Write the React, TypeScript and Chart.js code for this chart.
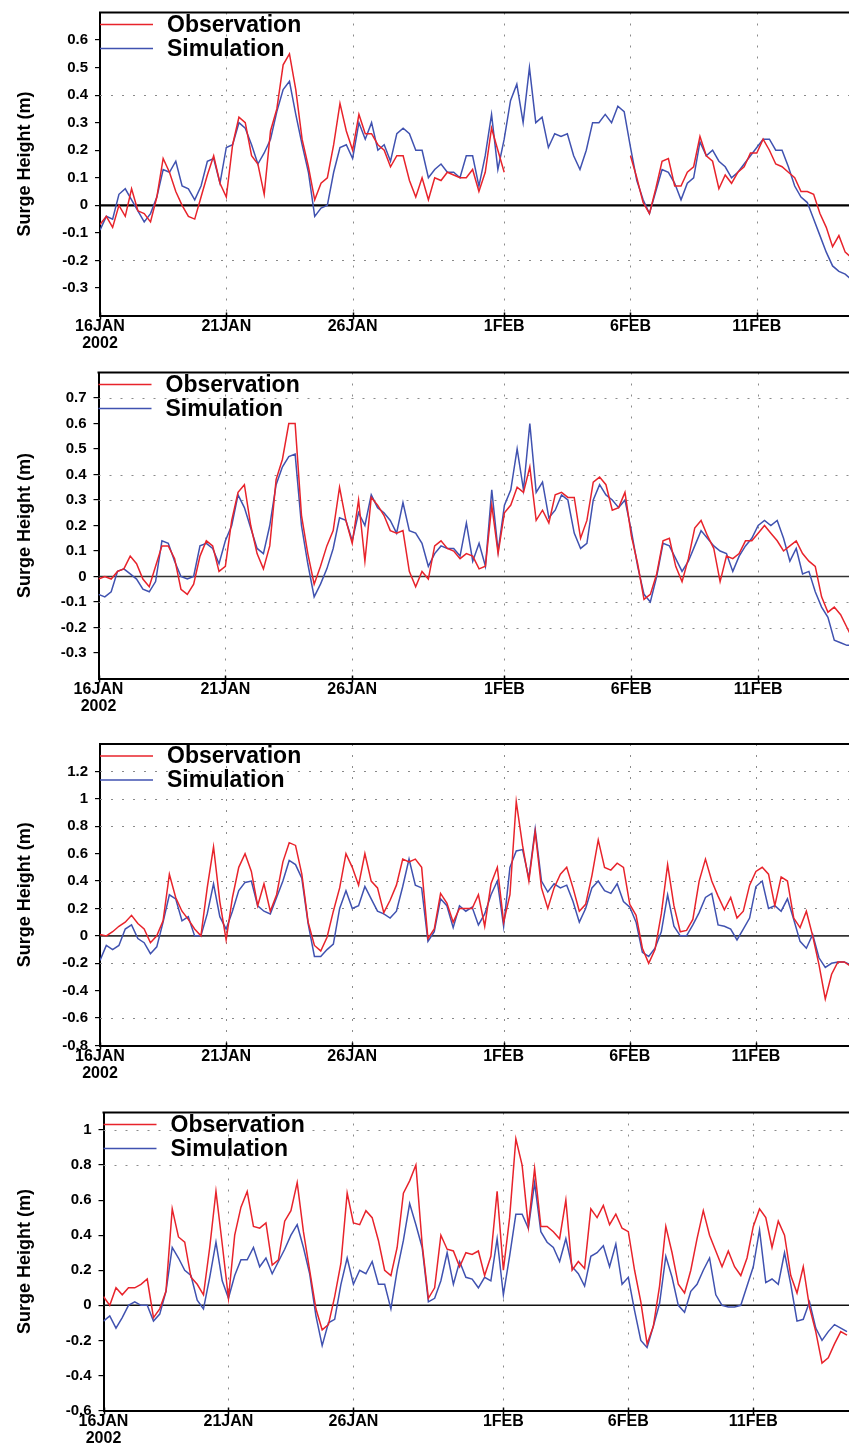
import React, { useEffect, useRef } from "react";
import { Chart, registerables } from "chart.js";

Chart.register(...registerables);

const FONT = "'Liberation Sans', Arial, sans-serif";
const RED = "#e8232b";
const BLUE = "#4052b0";
const STEP_DAYS = 0.25; // samples every 6 hours from 16JAN 00h
const DATE_TICKS = [0, 5, 10, 16, 21, 26];
const DATE_LABELS: (string | string[])[] = [["16JAN", "2002"], "21JAN", "26JAN", "1FEB", "6FEB", "11FEB"];
const SERIES_NAMES = ["Observation", "Simulation"];
const Y_TITLE = "Surge Height (m)";

const obs1 = [
  -0.07, -0.04, -0.08, 0.0, -0.04, 0.06, -0.02, -0.03, -0.06, 0.03,
  0.17, 0.12, 0.05, 0.0, -0.04, -0.05, 0.03, 0.11, 0.18, 0.08,
  0.03, 0.22, 0.32, 0.3, 0.18, 0.15, 0.04, 0.27, 0.35, 0.51,
  0.55, 0.42, 0.24, 0.14, 0.02, 0.08, 0.1, 0.22, 0.37, 0.27,
  0.2, 0.33, 0.26, 0.26, 0.22, 0.2, 0.14, 0.18, 0.18, 0.09,
  0.03, 0.1, 0.02, 0.1, 0.09, 0.12, 0.11, 0.1, 0.1, 0.13,
  0.05, 0.12, 0.28, 0.2, 0.12, null, null, null, null, null,
  null, null, null, null, null, null, null, null, null, null,
  null, null, null, null, 0.18, 0.1, 0.01, -0.03, 0.06, 0.16,
  0.17, 0.07, 0.07, 0.12, 0.14, 0.25, 0.18, 0.16, 0.06, 0.11,
  0.08, 0.12, 0.14, 0.19, 0.19, 0.24, 0.2, 0.15, 0.14, 0.12,
  0.1, 0.05, 0.05, 0.04, -0.03, -0.08, -0.15, -0.11, -0.17, -0.19,
];
const sim1 = [
  -0.09, -0.04, -0.05, 0.04, 0.06, 0.02, -0.02, -0.06, -0.03, 0.03,
  0.13, 0.12, 0.16, 0.07, 0.06, 0.02, 0.07, 0.16, 0.17, 0.08,
  0.21, 0.22, 0.3, 0.28, 0.22, 0.15, 0.19, 0.24, 0.34, 0.42,
  0.45, 0.33, 0.22, 0.12, -0.04, -0.01, 0.0, 0.12, 0.21, 0.22,
  0.17, 0.3, 0.24, 0.3, 0.2, 0.22, 0.16, 0.26, 0.28, 0.26,
  0.2, 0.2, 0.1, 0.13, 0.15, 0.12, 0.12, 0.1, 0.18, 0.18,
  0.07, 0.18, 0.33, 0.13, 0.24, 0.38, 0.44, 0.3, 0.5, 0.3,
  0.32, 0.21, 0.26, 0.25, 0.26, 0.18, 0.13, 0.2, 0.3, 0.3,
  0.33, 0.3, 0.36, 0.34, 0.21, 0.09, 0.02, -0.03, 0.05, 0.13,
  0.12, 0.08, 0.02, 0.08, 0.1, 0.23, 0.18, 0.2, 0.16, 0.14,
  0.1, 0.12, 0.15, 0.18, 0.21, 0.24, 0.24, 0.2, 0.2, 0.14,
  0.07, 0.03, 0.01, -0.05, -0.11, -0.17, -0.22, -0.24, -0.25, -0.27,
];
const obs2 = [
  -0.01, 0.0, -0.01, 0.02, 0.03, 0.08, 0.05, -0.01, -0.04, 0.04,
  0.12, 0.12, 0.07, -0.05, -0.07, -0.03, 0.08, 0.14, 0.12, 0.02,
  0.04, 0.22, 0.33, 0.36, 0.2, 0.09, 0.03, 0.12, 0.38, 0.46,
  0.6, 0.6, 0.24, 0.09, -0.03, 0.04, 0.12, 0.18, 0.35, 0.22,
  0.13, 0.3, 0.06, 0.31, 0.28, 0.24, 0.18, 0.17, 0.18, 0.02,
  -0.04, 0.02, -0.01, 0.12, 0.14, 0.11, 0.1, 0.07, 0.09, 0.08,
  0.03, 0.04, 0.28, 0.09, 0.25, 0.28, 0.35, 0.33, 0.43, 0.22,
  0.26, 0.21, 0.32, 0.33, 0.31, 0.31, 0.15, 0.22, 0.37, 0.39,
  0.36, 0.26, 0.27, 0.33, 0.16, 0.05, -0.09, -0.07, 0.01, 0.14,
  0.15, 0.04, -0.02, 0.07, 0.19, 0.22, 0.16, 0.11, -0.02, 0.08,
  0.07, 0.09, 0.14, 0.14, 0.17, 0.2, 0.17, 0.14, 0.1, 0.12,
  0.14, 0.09, 0.06, 0.04, -0.08, -0.14, -0.12, -0.15, -0.2, -0.25,
];
const sim2 = [
  -0.07, -0.08, -0.06, 0.02, 0.03, 0.01, -0.01, -0.05, -0.06, -0.02,
  0.14, 0.13, 0.06, 0.0, -0.01, 0.0, 0.12, 0.13, 0.11, 0.05,
  0.14, 0.2, 0.32, 0.27, 0.19, 0.11, 0.09, 0.2, 0.36, 0.43,
  0.47, 0.48, 0.2, 0.05, -0.08, -0.03, 0.03, 0.11, 0.23, 0.22,
  0.14, 0.25, 0.2, 0.32, 0.27, 0.25, 0.22, 0.17, 0.29, 0.18,
  0.17, 0.13, 0.04, 0.09, 0.12, 0.11, 0.11, 0.08, 0.21, 0.06,
  0.13, 0.04, 0.34, 0.1, 0.28, 0.34, 0.5, 0.34, 0.6, 0.33,
  0.37, 0.23, 0.26, 0.32, 0.3, 0.17, 0.11, 0.13, 0.3, 0.36,
  0.32, 0.3, 0.27, 0.3, 0.18, 0.04, -0.07, -0.1, 0.0, 0.13,
  0.12, 0.07, 0.02, 0.06, 0.12, 0.18, 0.15, 0.12, 0.1, 0.09,
  0.02, 0.08, 0.12, 0.15, 0.2, 0.22, 0.2, 0.22, 0.15, 0.06,
  0.11, 0.01, 0.02, -0.06, -0.12, -0.16, -0.25, -0.26, -0.27, -0.27,
];
const obs3 = [
  0.01, 0.0, 0.03, 0.07, 0.1, 0.15, 0.09, 0.05, -0.05, 0.0,
  0.11, 0.45, 0.28, 0.18, 0.12, 0.05, 0.0, 0.35, 0.65, 0.25,
  -0.03, 0.28, 0.5, 0.6, 0.47, 0.22, 0.38, 0.18, 0.3, 0.54,
  0.68, 0.66, 0.45, 0.1, -0.07, -0.11, -0.01, 0.18, 0.35, 0.6,
  0.5, 0.37, 0.6, 0.4, 0.35, 0.17, 0.26, 0.37, 0.56, 0.54,
  0.56, 0.5, -0.02, 0.05, 0.31, 0.24, 0.1, 0.2, 0.2, 0.2,
  0.3, 0.07, 0.38, 0.5, 0.1, 0.3, 0.98, 0.66, 0.4, 0.76,
  0.35, 0.2, 0.35, 0.45, 0.5, 0.35, 0.18, 0.23, 0.44, 0.7,
  0.5, 0.48, 0.53, 0.5, 0.23, 0.15, -0.09, -0.2, -0.1, 0.16,
  0.52, 0.22, 0.03, 0.04, 0.12, 0.4, 0.56, 0.4, 0.29, 0.19,
  0.28, 0.13, 0.18, 0.37, 0.47, 0.5, 0.45, 0.22, 0.43, 0.4,
  0.13, 0.06, 0.18, 0.0, -0.21, -0.46, -0.28, -0.19, -0.19, -0.22,
];
const sim3 = [
  -0.18, -0.07, -0.1, -0.07, 0.05, 0.08, -0.02, -0.05, -0.13, -0.08,
  0.1, 0.3, 0.27, 0.11, 0.14, 0.0, 0.0, 0.16, 0.38, 0.14,
  0.05, 0.18, 0.33, 0.39, 0.4, 0.22, 0.18, 0.16, 0.28, 0.4,
  0.55, 0.52, 0.42, 0.09, -0.15, -0.15, -0.1, -0.06, 0.2, 0.33,
  0.2, 0.22, 0.36, 0.27, 0.18, 0.16, 0.13, 0.18, 0.36, 0.56,
  0.37, 0.35, -0.04, 0.03, 0.27, 0.22, 0.06, 0.22, 0.18, 0.21,
  0.08, 0.16, 0.3, 0.4, 0.07, 0.5, 0.62, 0.63, 0.42, 0.78,
  0.4, 0.32, 0.38, 0.35, 0.37, 0.25, 0.1, 0.2, 0.35, 0.4,
  0.33, 0.31, 0.38, 0.25, 0.21, 0.1, -0.12, -0.15, -0.09, 0.03,
  0.3, 0.07, 0.0, 0.0, 0.08, 0.17, 0.28, 0.31, 0.08, 0.07,
  0.05, -0.03, 0.05, 0.13, 0.36, 0.4, 0.2, 0.22, 0.18, 0.27,
  0.12, -0.04, -0.09, 0.01, -0.16, -0.23, -0.2, -0.19, -0.19, -0.21,
];
const obs4 = [
  0.05, 0.0, 0.1, 0.06, 0.1, 0.1, 0.12, 0.15, -0.07, -0.02,
  0.08, 0.55, 0.39, 0.36, 0.16, 0.12, 0.06, 0.33, 0.65, 0.35,
  0.04, 0.4, 0.56, 0.65, 0.45, 0.44, 0.47, 0.23, 0.26, 0.48,
  0.54, 0.7, 0.42, 0.2, -0.02, -0.14, -0.11, 0.05, 0.24, 0.64,
  0.47, 0.46, 0.54, 0.5, 0.37, 0.2, 0.17, 0.33, 0.64, 0.71,
  0.8, 0.35, 0.04, 0.1, 0.4, 0.32, 0.31, 0.22, 0.3, 0.29,
  0.31, 0.17, 0.28, 0.65, 0.2, 0.5, 0.95, 0.8, 0.45, 0.78,
  0.45, 0.45, 0.42, 0.38, 0.6, 0.2, 0.25, 0.21, 0.55, 0.5,
  0.57, 0.46, 0.52, 0.44, 0.42, 0.2, 0.02, -0.22, -0.12, 0.11,
  0.45, 0.3, 0.12, 0.07, 0.2, 0.38, 0.54, 0.4, 0.31, 0.22,
  0.31, 0.22, 0.17, 0.27, 0.45, 0.55, 0.5, 0.33, 0.48, 0.4,
  0.17, 0.07, 0.22, -0.01, -0.15, -0.33, -0.3, -0.22, -0.15, -0.17,
];
const sim4 = [
  -0.09, -0.06, -0.13, -0.07, 0.0, 0.02, 0.0, 0.0, -0.09, -0.05,
  0.08, 0.33, 0.27, 0.2, 0.17, 0.03, -0.02, 0.16, 0.36, 0.14,
  0.04, 0.17, 0.26, 0.26, 0.33, 0.22, 0.27, 0.18, 0.25, 0.32,
  0.4, 0.46, 0.33, 0.18, -0.06, -0.23, -0.1, -0.08, 0.12, 0.27,
  0.12, 0.2, 0.18, 0.25, 0.12, 0.12, -0.02, 0.2, 0.37, 0.58,
  0.46, 0.33, 0.02, 0.04, 0.14, 0.3, 0.12, 0.25, 0.16, 0.15,
  0.1, 0.16, 0.14, 0.38, 0.06, 0.28, 0.52, 0.52, 0.44, 0.7,
  0.42, 0.36, 0.33, 0.25, 0.38, 0.22, 0.18, 0.11, 0.28, 0.3,
  0.34, 0.22, 0.35, 0.12, 0.16, -0.03, -0.2, -0.24, -0.12, 0.01,
  0.28, 0.16, 0.0, -0.04, 0.08, 0.12, 0.2, 0.27, 0.06, 0.0,
  -0.01, -0.01, 0.0, 0.11, 0.22, 0.43, 0.13, 0.15, 0.12, 0.3,
  0.12, -0.09, -0.08, 0.02, -0.13, -0.2, -0.15, -0.11, -0.13, -0.15,
];

const yTicks1 = [-0.3, -0.2, -0.1, 0, 0.1, 0.2, 0.3, 0.4, 0.5, 0.6];
const yTicks2 = [-0.3, -0.2, -0.1, 0, 0.1, 0.2, 0.3, 0.4, 0.5, 0.6, 0.7];
const yTicks3 = [-0.8, -0.6, -0.4, -0.2, 0, 0.2, 0.4, 0.6, 0.8, 1, 1.2];
const yTicks4 = [-0.6, -0.4, -0.2, 0, 0.2, 0.4, 0.6, 0.8, 1];

const grid1 = [0.4, -0.2];
const grid2 = [0.7, 0.4, 0.3, -0.1, -0.2];
const grid3 = [1.2, 1.0, 0.8, 0.4, 0.2, -0.2, -0.6];
const grid4 = [1.0, 0.8];

type PanelCfg = {
  obs: (number | null)[];
  sim: (number | null)[];
  yTicks: number[];
  grid: number[];
  yMin: number;
  yMax: number;
  top: number;
  height: number;
  plotTop: number;
  plotBottom: number;
  plotLeft: number;
  xMax: number;
  zeroWidth: number;
  zeroColor: string;
};

const PANELS: PanelCfg[] = [
  { obs: obs1, sim: sim1, yTicks: yTicks1, grid: grid1, yMin: -0.4, yMax: 0.7, top: 0, height: 360, plotTop: 12.5, plotBottom: 315.5, plotLeft: 100, xMax: 29.65, zeroWidth: 2.2, zeroColor: "#000" },
  { obs: obs2, sim: sim2, yTicks: yTicks2, grid: grid2, yMin: -0.4, yMax: 0.8, top: 352, height: 370, plotTop: 372.5, plotBottom: 678.5, plotLeft: 98.5, xMax: 29.58, zeroWidth: 1.6, zeroColor: "#333" },
  { obs: obs3, sim: sim3, yTicks: yTicks3, grid: grid3, yMin: -0.8, yMax: 1.4, top: 718, height: 372, plotTop: 744, plotBottom: 1045.5, plotLeft: 100, xMax: 29.69, zeroWidth: 1.6, zeroColor: "#333" },
  { obs: obs4, sim: sim4, yTicks: yTicks4, grid: grid4, yMin: -0.6, yMax: 1.1, top: 1088, height: 364, plotTop: 1112.5, plotBottom: 1410.5, plotLeft: 103.5, xMax: 29.83, zeroWidth: 1.6, zeroColor: "#111" },
];

function SurgePanel({ p }: { p: PanelCfg }) {
  const ref = useRef<HTMLCanvasElement | null>(null);

  useEffect(() => {
    if (!ref.current) return;
    const toPts = (arr: (number | null)[]) => arr.map((v, i) => ({ x: i * STEP_DAYS, y: v }));

    const framePlugin = {
      id: "surgeFrame",
      beforeDatasetsDraw(chart: any) {
        const { ctx, chartArea: a, scales } = chart;
        const x = scales.x;
        const y = scales.y;
        ctx.save();
        ctx.strokeStyle = "#8a8a8a";
        ctx.lineWidth = 1;
        ctx.setLineDash([2, 9]);
        for (const v of p.grid) {
          const py = Math.round(y.getPixelForValue(v)) + 0.5;
          ctx.beginPath();
          ctx.moveTo(a.left, py);
          ctx.lineTo(a.right, py);
          ctx.stroke();
        }
        for (const d of DATE_TICKS.slice(1)) {
          const px = Math.round(x.getPixelForValue(d)) + 0.5;
          ctx.beginPath();
          ctx.moveTo(px, a.top);
          ctx.lineTo(px, a.bottom);
          ctx.stroke();
        }
        ctx.setLineDash([]);
        const zy = y.getPixelForValue(0);
        ctx.strokeStyle = p.zeroColor;
        ctx.lineWidth = p.zeroWidth;
        ctx.beginPath();
        ctx.moveTo(a.left, zy);
        ctx.lineTo(a.right, zy);
        ctx.stroke();
        ctx.restore();
      },
      afterDatasetsDraw(chart: any) {
        const { ctx, chartArea: a, scales } = chart;
        ctx.save();
        // top frame
        ctx.strokeStyle = "#000";
        ctx.lineWidth = 2.2;
        ctx.beginPath();
        ctx.moveTo(a.left - 1, a.top);
        ctx.lineTo(a.right, a.top);
        ctx.stroke();
        // small date tick marks under the bottom axis
        ctx.lineWidth = 1.5;
        for (const d of DATE_TICKS) {
          const px = Math.round(scales.x.getPixelForValue(d)) + 0.5;
          ctx.beginPath();
          ctx.moveTo(px, a.bottom - 3);
          ctx.lineTo(px, a.bottom + 4);
          ctx.stroke();
        }
        // legend
        const colors = [RED, BLUE];
        const offs = [12, 36];
        ctx.font = `bold 23px ${FONT}`;
        ctx.textBaseline = "middle";
        ctx.textAlign = "left";
        for (let i = 0; i < 2; i++) {
          const ly = a.top + offs[i];
          ctx.strokeStyle = colors[i];
          ctx.lineWidth = 1.3;
          ctx.beginPath();
          ctx.moveTo(a.left, ly);
          ctx.lineTo(a.left + 53, ly);
          ctx.stroke();
          ctx.fillStyle = "#000";
          ctx.fillText(SERIES_NAMES[i], a.left + 67, ly + 1);
        }
        ctx.restore();
      },
    };

    const chart = new Chart(ref.current, {
      type: "line",
      data: {
        datasets: [
          { label: SERIES_NAMES[0], data: toPts(p.obs) as any, borderColor: RED, borderWidth: 1.5, pointRadius: 0, spanGaps: false, tension: 0 },
          { label: SERIES_NAMES[1], data: toPts(p.sim) as any, borderColor: BLUE, borderWidth: 1.5, pointRadius: 0, spanGaps: false, tension: 0 },
        ],
      },
      options: {
        animation: false,
        responsive: false,
        events: [],
        layout: { padding: { top: p.plotTop - p.top, left: 0, right: 0, bottom: 0 } },
        plugins: { legend: { display: false }, tooltip: { enabled: false } },
        scales: {
          x: {
            type: "linear",
            min: 0,
            max: p.xMax,
            afterBuildTicks: (s: any) => {
              s.ticks = DATE_TICKS.map((v) => ({ value: v }));
            },
            afterFit: (s: any) => {
              s.height = p.height - (p.plotBottom - p.top);
              s.paddingLeft = 0;
              s.paddingRight = 0;
            },
            ticks: {
              autoSkip: false,
              maxRotation: 0,
              minRotation: 0,
              padding: 2,
              color: "#000",
              font: { family: FONT, size: 16, weight: "bold", lineHeight: 1.1 },
              callback: (v: any) => {
                const i = DATE_TICKS.indexOf(Number(v));
                return i >= 0 ? DATE_LABELS[i] : "";
              },
            },
            grid: { drawOnChartArea: false, drawTicks: false },
            border: { display: true, color: "#000", width: 2 },
          },
          y: {
            type: "linear",
            min: p.yMin,
            max: p.yMax,
            afterBuildTicks: (s: any) => {
              s.ticks = p.yTicks.map((v) => ({ value: v }));
            },
            afterFit: (s: any) => {
              s.width = p.plotLeft;
              s.paddingTop = 0;
              s.paddingBottom = 0;
            },
            ticks: {
              padding: 7,
              color: "#000",
              font: { family: FONT, size: 15, weight: "bold" },
              callback: (v: any) => (Number(v) === 0 ? "0" : String(v)),
            },
            grid: { drawOnChartArea: false, drawTicks: true, tickLength: 5, color: "#000", lineWidth: 1.2 },
            border: { display: true, color: "#000", width: 2 },
            title: {
              display: true,
              text: Y_TITLE,
              color: "#000",
              font: { family: FONT, size: 18, weight: "bold" },
              padding: { top: 14, bottom: 0 },
            },
          },
        },
      } as any,
      plugins: [framePlugin],
    });
    return () => chart.destroy();
  }, [p]);

  return (
    <canvas
      ref={ref}
      width={849}
      height={p.height}
      style={{ position: "absolute", left: 0, top: p.top, width: 849, height: p.height, display: "block" }}
    />
  );
}

export default function App() {
  return (
    <div style={{ position: "absolute", left: 0, top: 0, width: 849, height: 1452, background: "#fff", overflow: "hidden" }}>
      {PANELS.map((p, i) => (
        <SurgePanel key={i} p={p} />
      ))}
    </div>
  );
}
